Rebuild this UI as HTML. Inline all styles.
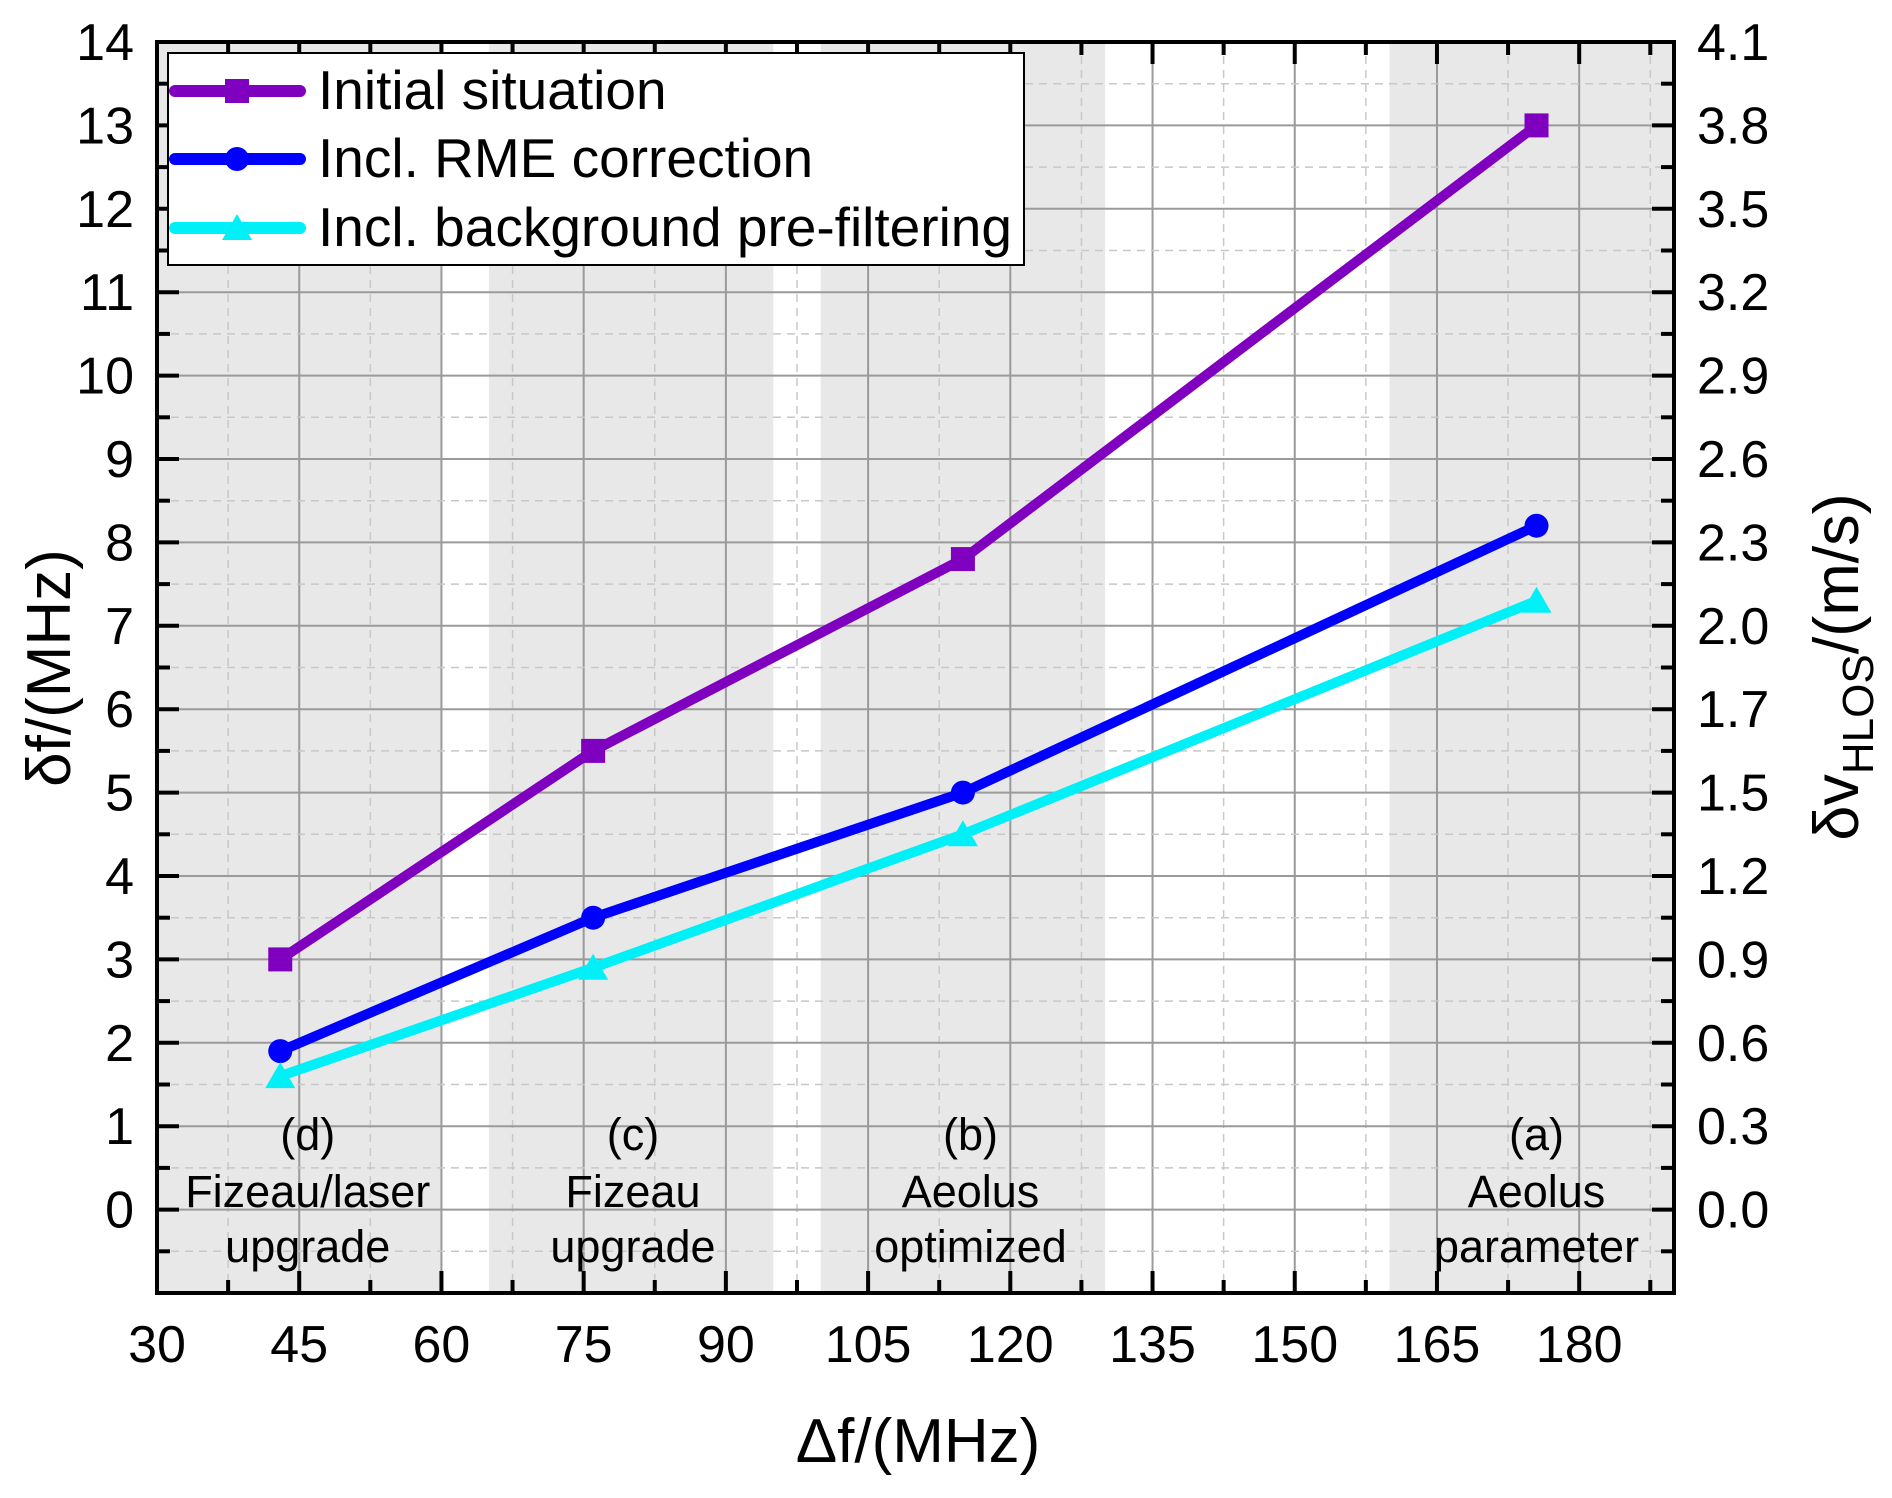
<!DOCTYPE html>
<html><head><meta charset="utf-8"><style>
html,body{margin:0;padding:0;background:#fff;}
svg{display:block;font-family:"Liberation Sans",Arial,sans-serif;}
</style></head><body>
<svg id="chart" width="1892" height="1498" viewBox="0 0 1892 1498" xmlns="http://www.w3.org/2000/svg">
<g id="bands"></g>
<g id="grid"></g>
<g id="series"></g>
<g id="annot"></g>
<g id="axes"></g>
<g id="legend"></g>
</svg>
<script>
const xTicks=[30,45,60,75,90,105,120,135,150,165,180];
const yTicks=[0,1,2,3,4,5,6,7,8,9,10,11,12,13,14];
const rightLabels=["0.0","0.3","0.6","0.9","1.2","1.5","1.7","2.0","2.3","2.6","2.9","3.2","3.5","3.8","4.1"];
const bandStarts=[30,65,100,160];
const bandEnds=[60,95,130,190];
const xVals=[43,76,115,175.5];
const initialVals=[3,5.5,7.8,13];
const rmeVals=[1.9,3.5,5,8.2];
const bgVals=[1.6,2.9,4.5,7.3];
const annotX=[45.9,80.2,115.8,175.5];
const annotLines=[["(d)","Fizeau/laser","upgrade"],["(c)","Fizeau","upgrade"],["(b)","Aeolus","optimized"],["(a)","Aeolus","parameter"]];

const L=157,R=1674,T=42,B=1293,X0=30,X1=190,Y0=-1,Y1=14;
const xs=v=>L+(v-X0)*(R-L)/(X1-X0);
const ys=v=>B-(v-Y0)*(B-T)/(Y1-Y0);
const NS="http://www.w3.org/2000/svg";
function mk(p,tag,attrs,txt){const e=document.createElementNS(NS,tag);for(const k in attrs)e.setAttribute(k,attrs[k]);if(txt!==undefined)e.textContent=txt;p.appendChild(e);return e;}
const g=id=>document.getElementById(id);

mk(g('bands'),'rect',{x:L,y:T,width:R-L,height:B-T,fill:'#fff'});
bandStarts.forEach((s,i)=>{const r=mk(g('bands'),'rect',{x:xs(s),y:T,width:xs(bandEnds[i])-xs(s),height:B-T,fill:'#e8e8e8'});

});

const gr=g('grid');
for(let v=X0;v<=X1;v+=7.5){const major=(v-X0)%15===0;if(v===X0||v===X1)continue;
mk(gr,'line',{x1:xs(v),x2:xs(v),y1:T,y2:B,stroke:major?'#9a9a9a':'#c8c8c8','stroke-width':major?2:1.5,'stroke-dasharray':major?'':'8,6'});}
for(let v=Y0+0.5;v<Y1;v+=0.5){const major=Number.isInteger(v);
mk(gr,'line',{x1:L,x2:R,y1:ys(v),y2:ys(v),stroke:major?'#9a9a9a':'#c8c8c8','stroke-width':major?2:1.5,'stroke-dasharray':major?'':'8,6'});}

const series=[{name:'initial-situation',vals:initialVals,color:'#8000c0',m:'sq'},{name:'rme-correction',vals:rmeVals,color:'#0000ff',m:'ci'},{name:'background-prefiltering',vals:bgVals,color:'#00f0f8',m:'tr'}];
function marker(p,m,x,y,c){
 if(m==='sq')return mk(p,'rect',{x:x-12,y:y-12,width:24,height:24,fill:c});
 if(m==='ci')return mk(p,'circle',{cx:x,cy:y,r:12,fill:c});
 return mk(p,'polygon',{points:`${x},${y-14} ${x+15},${y+12} ${x-15},${y+12}`,fill:c});
}
series.forEach(s=>{
 const sg=mk(g('series'),'g',{});
 
 
 const pl=mk(sg,'polyline',{points:s.vals.map((v,i)=>xs(xVals[i])+','+ys(v)).join(' '),fill:'none',stroke:s.color,'stroke-width':10,'stroke-linejoin':'round'});
 
 
 s.vals.forEach((v,i)=>{const mm=marker(sg,s.m,xs(xVals[i]),ys(v),s.color);
 
 });
});

annotLines.forEach((ls,i)=>{const ag=mk(g('annot'),'g',{});
 
 
 const yy=[1150,1207,1262];
 ls.forEach((t,j)=>mk(ag,'text',{x:xs(annotX[i]),y:yy[j],'font-size':45,'text-anchor':'middle',fill:'#000'},t));});

const ax=g('axes');
mk(ax,'rect',{x:L,y:T,width:R-L,height:B-T,fill:'none',stroke:'#000','stroke-width':4});
for(let v=X0;v<=X1;v+=7.5){const major=(v-X0)%15===0;const len=major?22:13;
 mk(ax,'line',{x1:xs(v),x2:xs(v),y1:B,y2:B-len,stroke:'#000','stroke-width':4});
 mk(ax,'line',{x1:xs(v),x2:xs(v),y1:T,y2:T+len,stroke:'#000','stroke-width':4});}
for(let v=Y0;v<=Y1;v+=0.5){const major=Number.isInteger(v);const len=major?22:13;
 mk(ax,'line',{x1:L,x2:L+len,y1:ys(v),y2:ys(v),stroke:'#000','stroke-width':4});
 mk(ax,'line',{x1:R,x2:R-len,y1:ys(v),y2:ys(v),stroke:'#000','stroke-width':4});}
xTicks.forEach(v=>{const t=mk(ax,'text',{x:xs(v),y:1362,'font-size':52,'text-anchor':'middle'},String(v));
 
 });
yTicks.forEach((v,i)=>{const t=mk(ax,'text',{x:134,y:ys(v)+18,'font-size':52,'text-anchor':'end'},String(v));
 
 
 const r=mk(ax,'text',{x:1697,y:ys(v)+18,'font-size':52},rightLabels[i]);
 
 });
const xt=mk(ax,'text',{x:918,y:1462,'font-size':62,'text-anchor':'middle'},'Δf/(MHz)');


const yt=mk(ax,'text',{x:0,y:0,'font-size':62,'text-anchor':'middle',transform:'translate(70,668) rotate(-90)'},'δf/(MHz)');


const rt=mk(ax,'text',{x:0,y:0,'font-size':63,'text-anchor':'middle',transform:'translate(1858,667) rotate(-90)'});


mk(rt,'tspan',{},'δv');mk(rt,'tspan',{'font-size':44,dy:15},'HLOS');mk(rt,'tspan',{dy:-15},'/(m/s)');

const lg=g('legend');
mk(lg,'rect',{x:168,y:53,width:856,height:212,fill:'#fff',stroke:'#000','stroke-width':2});
const names=['Initial situation','Incl. RME correction','Incl. background pre-filtering'];
[91,159,228].forEach((y,i)=>{const e=mk(lg,'g',{});
 
 
 mk(e,'line',{x1:175,x2:300,y1:y,y2:y,stroke:series[i].color,'stroke-width':12,'stroke-linecap':'round'});
 marker(e,series[i].m,237,y,series[i].color);
 mk(e,'text',{x:318,y:y+18,'font-size':55},names[i]);});
</script>
</body></html>
